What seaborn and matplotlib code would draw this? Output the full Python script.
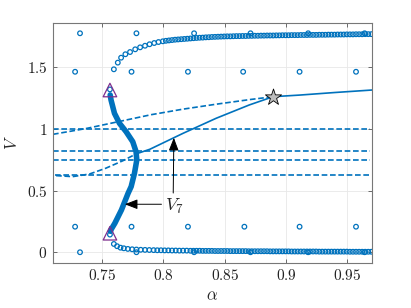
import matplotlib
matplotlib.use("Agg")
import matplotlib.pyplot as plt
import seaborn as sns

BLUE = "#0072BD"
PURPLE = "#7E2F8E"

# upper branch of circles
upper_alpha = [0.7596, 0.7628, 0.7655, 0.7690, 0.7728, 0.7770, 0.7810, 0.7850, 0.7887, 0.7925,
               0.7960, 0.7995, 0.8020, 0.8045, 0.8070, 0.8095, 0.8120, 0.8145, 0.8170, 0.8195,
               0.8220, 0.8245, 0.8270, 0.8295, 0.8320, 0.8345, 0.8370, 0.8395, 0.8420, 0.8445,
               0.8470, 0.8495, 0.8520, 0.8545, 0.8570, 0.8595, 0.8620, 0.8645, 0.8670, 0.8695,
               0.8720, 0.8745, 0.8770, 0.8795, 0.8820, 0.8845, 0.8870, 0.8895, 0.8920, 0.8945,
               0.8970, 0.8995, 0.9020, 0.9045, 0.9070, 0.9095, 0.9120, 0.9145, 0.9170, 0.9195,
               0.9220, 0.9245, 0.9270, 0.9295, 0.9320, 0.9345, 0.9370, 0.9395, 0.9420, 0.9445,
               0.9470, 0.9495, 0.9520, 0.9545, 0.9570, 0.9595, 0.9620, 0.9645, 0.9670, 0.9695]
upper_V = [1.483, 1.537, 1.577, 1.605, 1.623, 1.645, 1.661, 1.674, 1.686, 1.696,
           1.704, 1.710, 1.714, 1.717, 1.720, 1.723, 1.725, 1.727, 1.729, 1.731,
           1.733, 1.735, 1.737, 1.739, 1.740, 1.742, 1.743, 1.745, 1.746, 1.747,
           1.748, 1.749, 1.750, 1.750, 1.751, 1.752, 1.752, 1.753, 1.753, 1.754,
           1.754, 1.755, 1.755, 1.756, 1.756, 1.757, 1.757, 1.757, 1.758, 1.758,
           1.759, 1.759, 1.759, 1.760, 1.760, 1.760, 1.761, 1.761, 1.761, 1.762,
           1.762, 1.762, 1.763, 1.763, 1.763, 1.764, 1.764, 1.764, 1.765, 1.765,
           1.765, 1.766, 1.766, 1.766, 1.767, 1.767, 1.767, 1.768, 1.768, 1.768]

# lower branch of circles
lower_alpha = [0.7596, 0.7622, 0.7650, 0.7677, 0.7710, 0.7745, 0.7780, 0.7815, 0.7850, 0.7885,
               0.7920, 0.7950, 0.7980, 0.8010, 0.8040, 0.8070, 0.8100, 0.8130, 0.8160, 0.8190,
               0.8220, 0.8245, 0.8270, 0.8295, 0.8320, 0.8345, 0.8370, 0.8395, 0.8420, 0.8445,
               0.8470, 0.8495, 0.8520, 0.8545, 0.8570, 0.8595, 0.8620, 0.8645, 0.8670, 0.8695,
               0.8720, 0.8745, 0.8770, 0.8795, 0.8820, 0.8845, 0.8870, 0.8895, 0.8920, 0.8945,
               0.8970, 0.8995, 0.9020, 0.9045, 0.9070, 0.9095, 0.9120, 0.9145, 0.9170, 0.9195,
               0.9220, 0.9245, 0.9270, 0.9295, 0.9320, 0.9345, 0.9370, 0.9395, 0.9420, 0.9445,
               0.9470, 0.9495, 0.9520, 0.9545, 0.9570, 0.9595, 0.9620, 0.9645, 0.9670, 0.9695]
lower_V = [0.067, 0.049, 0.037, 0.032, 0.027, 0.024, 0.022, 0.020, 0.019, 0.018,
           0.017, 0.016, 0.016, 0.015, 0.015, 0.014, 0.014, 0.013, 0.013, 0.013,
           0.012, 0.012, 0.012, 0.012, 0.011, 0.011, 0.011, 0.011, 0.010, 0.010,
           0.010, 0.010, 0.010, 0.009, 0.009, 0.009, 0.009, 0.009, 0.009, 0.008,
           0.008, 0.008, 0.008, 0.008, 0.008, 0.008, 0.007, 0.007, 0.007, 0.007,
           0.007, 0.007, 0.007, 0.006, 0.006, 0.006, 0.006, 0.006, 0.006, 0.006,
           0.006, 0.006, 0.005, 0.005, 0.005, 0.005, 0.005, 0.005, 0.005, 0.005,
           0.005, 0.005, 0.004, 0.004, 0.004, 0.004, 0.004, 0.004, 0.004, 0.004]

# isolated circles
iso_alpha = [0.732, 0.778, 0.825, 0.871, 0.918, 0.964,
             0.728, 0.774, 0.820, 0.865, 0.911, 0.957,
             0.728, 0.774, 0.820, 0.866, 0.911, 0.957,
             0.732, 0.778, 0.825, 0.871, 0.918, 0.964,
             0.7564, 0.7564]
iso_V = [1.775] * 6 + [1.463] * 6 + [0.207] * 6 + [0.0] * 6 + [1.32, 0.143]

# thick S-shaped branch V7
v7_alpha = [0.7566, 0.7573, 0.7601, 0.7642, 0.7696, 0.7750, 0.7777, 0.7783, 0.7764,
            0.7737, 0.7712, 0.7658, 0.7604, 0.7577, 0.7568]
v7_V = [1.275, 1.234, 1.126, 1.045, 0.977, 0.896, 0.815, 0.748, 0.640,
        0.532, 0.478, 0.343, 0.235, 0.190, 0.170]

# dashed upper curve
dash_up_alpha = [0.710, 0.737, 0.764, 0.790, 0.816, 0.843, 0.870, 0.8895]
dash_up_V = [0.956, 1.003, 1.060, 1.115, 1.160, 1.200, 1.237, 1.261]

# dashed lower curve
dash_lo_alpha = [0.7125, 0.7260, 0.7397, 0.7530, 0.7670, 0.7777]
dash_lo_V = [0.621, 0.613, 0.634, 0.681, 0.742, 0.797]

# solid curve
solid_alpha = [0.7777, 0.789, 0.816, 0.843, 0.870, 0.8895, 0.911, 0.940, 0.970]
solid_V = [0.797, 0.835, 0.964, 1.086, 1.194, 1.261, 1.274, 1.295, 1.315]

# horizontal dashed levels
level_V = [1.0, 0.823, 0.748, 0.626]
level_start = [0.710, 0.710, 0.710, 0.712]
level_end = 0.968

fold_alpha = [0.7564, 0.7564]
fold_V = [1.315, 0.154]
star_alpha = [0.8893]
star_V = [1.261]

sns.set_theme(style="white")
plt.rcParams["mathtext.fontset"] = "cm"

fig = plt.figure(figsize=(4.11, 3.08), dpi=100)
ax = fig.add_axes([0.129, 0.147, 0.776, 0.779])

dash = (0, (3.4, 1.6))
for v, a0 in zip(level_V, level_start):
    sns.lineplot(x=[a0, level_end], y=[v, v], ax=ax, color=BLUE, lw=1.2, linestyle=dash)
sns.lineplot(x=dash_up_alpha, y=dash_up_V, ax=ax, color=BLUE, lw=1.2, linestyle=dash, sort=False)
sns.lineplot(x=dash_lo_alpha, y=dash_lo_V, ax=ax, color=BLUE, lw=1.2, linestyle=dash, sort=False)
sns.lineplot(x=solid_alpha, y=solid_V, ax=ax, color=BLUE, lw=1.2, sort=False)
sns.lineplot(x=v7_alpha, y=v7_V, ax=ax, color=BLUE, lw=4.0, sort=False)

circ = dict(marker="o", s=11, facecolor="none", edgecolor=BLUE, linewidth=0.9, ax=ax)
sns.scatterplot(x=upper_alpha, y=upper_V, **circ)
sns.scatterplot(x=lower_alpha, y=lower_V, **circ)
sns.scatterplot(x=iso_alpha, y=iso_V, **circ)

sns.scatterplot(x=fold_alpha, y=fold_V, marker="^", s=95, facecolor="none",
                edgecolor=PURPLE, linewidth=0.9, ax=ax, zorder=5)
sns.scatterplot(x=star_alpha, y=star_V, marker="*", s=150, color="#BDBDBD",
                edgecolor="black", linewidth=0.6, ax=ax, zorder=6)

arrow = dict(arrowstyle="-|>,head_length=0.65,head_width=0.25", color="black",
             lw=0.7, shrinkA=0, shrinkB=0)
ax.annotate("", xy=(0.7685, 0.389), xytext=(0.7984, 0.389), arrowprops=arrow)
ax.annotate("", xy=(0.8085, 0.928), xytext=(0.8080, 0.480), arrowprops=arrow)
ax.text(0.8093, 0.37, r"$V_7$", fontsize=13, ha="center", va="center")

ax.set_xlim(0.71, 0.97)
ax.set_ylim(-0.085, 1.86)
xt = [0.75, 0.8, 0.85, 0.9, 0.95]
yt = [0, 0.5, 1, 1.5]
ax.set_xticks(xt)
ax.set_yticks(yt)
ax.set_xticklabels([f"${t:g}$" for t in xt], fontsize=11)
ax.set_yticklabels([f"${t:g}$" for t in yt], fontsize=11)
ax.set_xlabel(r"$\alpha$", fontsize=12, labelpad=2)
ax.set_ylabel(r"$V$", fontsize=12, labelpad=4)

ax.grid(True, color="#E8E8E8", lw=0.6)
ax.set_axisbelow(True)
ax.tick_params(direction="in", length=3, width=0.6, color="#555555",
               top=True, right=True, bottom=True, left=True, pad=4, labelcolor="#222222")
for sp in ax.spines.values():
    sp.set_color("#777777")
    sp.set_linewidth(0.8)

fig.savefig("out.png", dpi=100)
